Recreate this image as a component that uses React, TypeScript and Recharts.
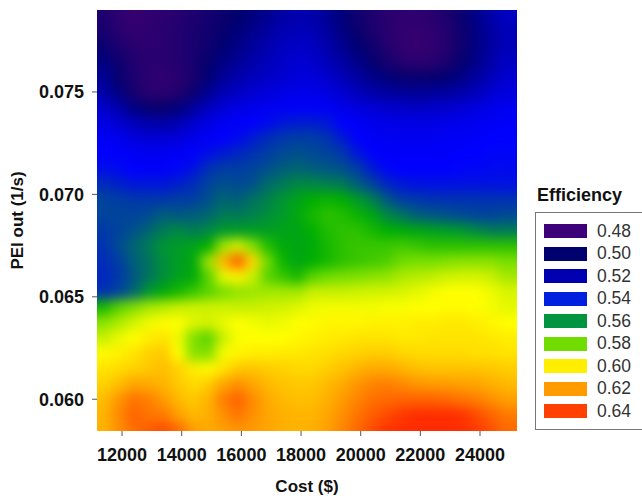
import { ScatterChart, Scatter, XAxis, YAxis, Legend } from "recharts";

const COSTS = [
  11400, 11900, 12400, 12900, 13400, 13900, 14400, 14900, 15400, 15900, 16400, 16900, 17400, 17900,
  18400, 18900, 19400, 19900, 20400, 20900, 21400, 21900, 22400, 22900, 23400, 23900, 24400, 24900,
];
const PEI_OUT = [
  0.0787, 0.07795, 0.0772, 0.07645, 0.0757, 0.07495, 0.0742, 0.07345, 0.0727, 0.07195, 0.0712, 0.07045, 0.0697, 0.06895,
  0.0682, 0.06745, 0.0667, 0.06595, 0.0652, 0.06445, 0.0637, 0.06295, 0.0622, 0.06145, 0.0607, 0.05995, 0.0592, 0.05845,
];
// efficiency x 1000, one row per PEI_OUT value
const EFFICIENCY = [
  [490, 484, 481, 483, 485, 487, 490, 493, 496, 500, 504, 509, 515, 517, 516, 510, 503, 495, 490, 486, 484, 484, 486, 490, 497, 507, 516, 522],
  [492, 486, 483, 484, 486, 488, 491, 494, 498, 503, 508, 513, 518, 520, 519, 513, 505, 497, 491, 486, 483, 482, 484, 488, 495, 505, 514, 520],
  [497, 490, 486, 485, 486, 488, 491, 495, 501, 507, 512, 517, 521, 523, 522, 516, 509, 501, 494, 488, 483, 481, 483, 488, 495, 505, 514, 520],
  [505, 495, 489, 486, 486, 488, 492, 498, 505, 511, 516, 520, 523, 525, 524, 520, 514, 507, 499, 492, 487, 485, 486, 490, 498, 507, 516, 522],
  [510, 498, 490, 485, 484, 486, 491, 501, 511, 516, 520, 523, 525, 527, 527, 524, 519, 513, 507, 502, 498, 497, 498, 501, 506, 513, 520, 525],
  [516, 504, 492, 486, 485, 488, 496, 509, 518, 522, 525, 527, 529, 530, 530, 528, 525, 520, 516, 513, 511, 510, 511, 513, 516, 520, 525, 528],
  [524, 516, 505, 498, 497, 502, 512, 521, 526, 529, 530, 532, 533, 534, 534, 533, 530, 528, 526, 524, 523, 522, 523, 524, 526, 528, 530, 532],
  [529, 525, 520, 516, 515, 518, 524, 529, 532, 534, 535, 537, 540, 541, 541, 540, 535, 533, 531, 530, 529, 529, 529, 530, 531, 532, 533, 534],
  [533, 531, 528, 526, 526, 527, 530, 533, 535, 537, 541, 544, 546, 547, 547, 545, 541, 535, 533, 532, 532, 532, 532, 533, 533, 534, 535, 535],
  [535, 534, 533, 532, 532, 533, 535, 538, 541, 543, 545, 547, 549, 550, 549, 548, 546, 540, 535, 534, 534, 534, 534, 534, 535, 535, 536, 536],
  [538, 537, 535, 534, 534, 536, 539, 545, 547, 547, 548, 550, 552, 553, 552, 551, 550, 547, 541, 536, 535, 535, 535, 535, 536, 536, 537, 537],
  [544, 542, 540, 540, 540, 542, 544, 548, 550, 549, 550, 554, 556, 558, 558, 557, 556, 552, 548, 543, 540, 539, 539, 539, 539, 539, 539, 539],
  [548, 547, 546, 546, 546, 547, 547, 550, 553, 552, 555, 557, 560, 565, 570, 571, 570, 562, 557, 551, 547, 546, 545, 545, 545, 545, 545, 545],
  [548, 548, 548, 549, 552, 551, 552, 553, 556, 556, 557, 559, 562, 567, 572, 574, 573, 571, 566, 558, 555, 552, 551, 550, 549, 548, 548, 549],
  [546, 548, 550, 553, 556, 558, 556, 558, 561, 562, 563, 563, 565, 566, 570, 573, 574, 574, 572, 570, 568, 566, 564, 562, 560, 558, 556, 556],
  [545, 549, 553, 556, 560, 562, 565, 570, 585, 592, 582, 573, 568, 566, 568, 572, 574, 575, 575, 575, 576, 575, 574, 574, 574, 574, 574, 574],
  [544, 547, 552, 555, 559, 563, 567, 585, 615, 632, 608, 580, 571, 566, 570, 572, 574, 575, 576, 577, 580, 581, 581, 582, 583, 583, 583, 581],
  [543, 546, 551, 555, 559, 564, 568, 578, 595, 603, 590, 578, 575, 572, 578, 580, 581, 582, 583, 584, 587, 588, 589, 591, 592, 592, 590, 586],
  [545, 548, 553, 560, 568, 572, 575, 578, 581, 584, 585, 586, 586, 586, 590, 590, 590, 591, 592, 592, 593, 595, 598, 600, 600, 600, 597, 593],
  [572, 578, 582, 586, 588, 590, 591, 591, 591, 590, 590, 591, 592, 594, 597, 598, 598, 598, 598, 599, 599, 600, 600, 601, 601, 600, 598, 595],
  [583, 587, 592, 597, 601, 600, 594, 592, 596, 600, 598, 596, 597, 600, 601, 602, 602, 602, 603, 603, 603, 604, 604, 605, 605, 604, 602, 600],
  [590, 596, 600, 604, 606, 597, 582, 578, 590, 599, 600, 600, 600, 602, 603, 604, 605, 606, 606, 606, 605, 605, 606, 606, 606, 606, 605, 604],
  [601, 603, 606, 610, 612, 600, 583, 582, 598, 602, 604, 604, 605, 605, 606, 607, 609, 610, 611, 611, 609, 608, 608, 608, 608, 607, 607, 606],
  [606, 608, 610, 612, 614, 610, 604, 601, 606, 612, 613, 611, 610, 609, 609, 611, 613, 616, 618, 618, 616, 614, 613, 613, 613, 613, 612, 611],
  [610, 614, 619, 618, 616, 612, 608, 611, 619, 623, 619, 615, 613, 612, 612, 615, 618, 622, 625, 626, 624, 622, 621, 621, 620, 619, 617, 615],
  [614, 622, 628, 626, 621, 615, 612, 616, 626, 631, 624, 618, 615, 614, 614, 617, 621, 625, 629, 630, 631, 631, 631, 630, 628, 626, 623, 620],
  [616, 624, 631, 628, 627, 620, 615, 617, 623, 628, 623, 619, 617, 616, 616, 619, 623, 628, 632, 635, 638, 641, 643, 642, 639, 635, 631, 627],
  [616, 623, 629, 632, 635, 630, 621, 618, 620, 622, 621, 619, 617, 616, 617, 620, 625, 630, 635, 639, 642, 645, 646, 645, 642, 638, 634, 630],
];
const COST_TICKS = [12000, 14000, 16000, 18000, 20000, 22000, 24000];
const PEI_TICKS = [0.06, 0.065, 0.07, 0.075];
const LEGEND_LABELS = ["0.48", "0.50", "0.52", "0.54", "0.56", "0.58", "0.60", "0.62", "0.64"];
const LEGEND_COLORS = ["#3d0078", "#00006e", "#0000b0", "#0020e0", "#009440", "#70dc00", "#ffee00", "#ff9a00", "#ff4000"];

// colour ramp used for the surface
const RAMP: [number, number[]][] = [
  [480, [58, 0, 112]],
  [500, [0, 0, 110]],
  [520, [0, 0, 185]],
  [535, [0, 0, 255]],
  [542, [0, 32, 200]],
  [550, [0, 80, 140]],
  [560, [0, 150, 50]],
  [570, [0, 175, 0]],
  [580, [110, 220, 0]],
  [590, [200, 240, 0]],
  [600, [255, 255, 0]],
  [610, [255, 210, 0]],
  [620, [255, 160, 0]],
  [630, [255, 105, 0]],
  [640, [255, 45, 0]],
];

function colorFor(v: number) {
  if (v <= RAMP[0][0]) return `rgb(${RAMP[0][1].join(",")})`;
  for (let i = 1; i < RAMP.length; i++) {
    if (v <= RAMP[i][0]) {
      const [v0, c0] = RAMP[i - 1];
      const [v1, c1] = RAMP[i];
      const t = (v - v0) / (v1 - v0);
      return `rgb(${c0.map((c, k) => Math.round(c + (c1[k] - c) * t)).join(",")})`;
    }
  }
  return `rgb(${RAMP[RAMP.length - 1][1].join(",")})`;
}

const cells = PEI_OUT.flatMap((pei, r) =>
  COSTS.map((cost, c) => ({ cost, pei, eff: EFFICIENCY[r][c] }))
);

const FONT = "'Liberation Sans', Arial, sans-serif";
const tickStyle = { fontFamily: FONT, fontSize: 18, fontWeight: 700, fill: "#111" };
const titleStyle = { fontFamily: FONT, fontSize: 17, fontWeight: 700, fill: "#111" };

function HeatCell(props: any) {
  const { cx, cy, payload } = props;
  return <rect x={cx - 8} y={cy - 8.5} width={16} height={17} fill={colorFor(payload.eff)} />;
}

function EfficiencyLegend() {
  return (
    <div style={{ position: "relative", width: 107, height: 256, fontFamily: FONT, color: "#222" }}>
      <div style={{ position: "absolute", left: 2, top: 9, fontSize: 18, fontWeight: 700, color: "#111", whiteSpace: "nowrap", lineHeight: "22px" }}>
        Efficiency
      </div>
      <div style={{ position: "absolute", left: 0, top: 37, width: 107, height: 218, boxSizing: "border-box", border: "1px solid #777", borderRight: "none" }}>
        {LEGEND_LABELS.map((label, i) => (
          <div key={label} style={{ position: "absolute", left: 8, top: 11 + i * 22.5, display: "flex", alignItems: "center", height: 14 }}>
            <span style={{ width: 43, height: 14, background: LEGEND_COLORS[i], display: "block" }} />
            <span style={{ marginLeft: 10, fontSize: 17.5, color: "#333" }}>{label}</span>
          </div>
        ))}
      </div>
    </div>
  );
}

export default function App() {
  return (
    <div style={{ position: "absolute", left: 0, top: 0, width: 642, height: 496, background: "#fff" }}>
      <style>{`.heat { filter: url(#smooth); clip-path: url(#plotArea); }`}</style>
      <svg width={0} height={0} style={{ position: "absolute" }}>
        <defs>
          <filter id="smooth" filterUnits="userSpaceOnUse" x={60} y={-30} width={500} height={500} colorInterpolationFilters="sRGB">
            <feGaussianBlur stdDeviation={6} />
            <feComponentTransfer>
              <feFuncA type="linear" slope={100} />
            </feComponentTransfer>
          </filter>
          <clipPath id="plotArea" clipPathUnits="userSpaceOnUse">
            <rect x={97} y={10} width={420} height={421} />
          </clipPath>
        </defs>
      </svg>
      <ScatterChart width={642} height={496} margin={{ top: 10, right: 18, bottom: 0, left: 0 }}>
        <XAxis
          type="number"
          dataKey="cost"
          domain={[11160, 25240]}
          ticks={COST_TICKS}
          interval={0}
          height={65}
          axisLine={false}
          tickLine={{ stroke: "#555" }}
          tickSize={5}
          tick={tickStyle}
          tickMargin={12}
          label={{ value: "Cost ($)", position: "insideBottom", offset: 4, style: titleStyle }}
        />
        <YAxis
          type="number"
          dataKey="pei"
          domain={[0.05845, 0.079]}
          ticks={PEI_TICKS}
          interval={0}
          width={97}
          axisLine={false}
          tickLine={{ stroke: "#555" }}
          tickSize={5}
          tick={tickStyle}
          tickMargin={8}
          tickFormatter={(v: number) => v.toFixed(3)}
          label={{ value: "PEI out (1/s)", angle: -90, position: "insideLeft", offset: 17, style: { ...titleStyle, textAnchor: "middle" } }}
        />
        <Scatter data={cells} className="heat" shape={HeatCell} isAnimationActive={false} />
        <Legend
          layout="vertical"
          align="right"
          verticalAlign="top"
          content={EfficiencyLegend}
          wrapperStyle={{ left: 535, right: "auto", top: 175, width: 107 }}
        />
      </ScatterChart>
    </div>
  );
}
